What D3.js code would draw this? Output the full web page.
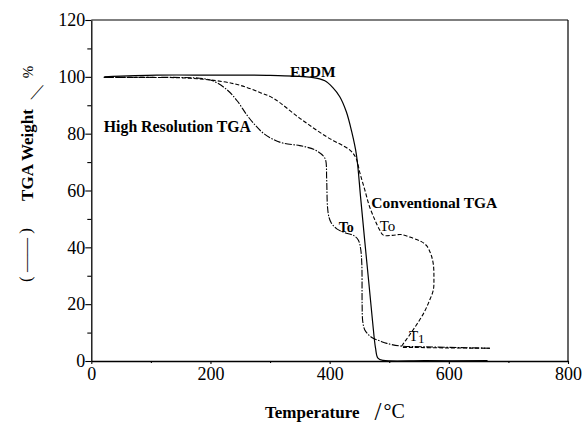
<!DOCTYPE html>
<html>
<head>
<meta charset="utf-8">
<script src="https://cdn.jsdelivr.net/npm/d3@7"></script>
<style>
  html, body { margin: 0; padding: 0; background: #fff; }
  svg { display: block; }
  text { font-family: "Liberation Serif", "Times New Roman", serif; fill: #000; }
</style>
</head>
<body>
<svg id="chart" width="582" height="425"></svg>
<script>
// ---------------- data ----------------
const xMajorTicks = [0, 200, 400, 600, 800];
const xMinorTicks = [100, 300, 500, 700];
const yMajorTicks = [0, 20, 40, 60, 80, 100, 120];
const yMinorTicks = [10, 30, 50, 70, 90, 110];

// EPDM (solid)
const epdmT = [22, 110, 200, 300, 370, 392, 405, 417, 428, 437, 445, 452, 459, 466, 472, 477, 481, 490, 560, 665];
const epdmW = [100, 100.6, 100.6, 100.5, 99.8, 98.6, 96.3, 93, 87.7, 80.7, 72.5, 57.5, 42, 27, 14, 4.5, 1, 0.2, 0.1, 0.1];

// High Resolution TGA (dash-dot)
const hiResT = [21, 100, 182, 205, 228, 245, 261, 275, 289, 305, 323, 350, 375, 390, 393.5, 395, 396.5, 399, 403, 412, 425, 440, 448, 452, 454, 454.5, 455.5, 459, 465, 473, 485, 496, 518, 560, 620, 669];
const hiResW = [99.8, 99.8, 99.5, 98.5, 95.4, 91.5, 86.6, 83, 80.1, 78, 76.6, 75.8, 74.3, 72, 70.5, 64, 54, 50.5, 48.5, 46.5, 45.2, 44.2, 42.6, 39.5, 34, 20, 14, 10.9, 9.3, 8, 7, 6.2, 5.3, 5, 4.7, 4.5];

// Conventional TGA (dashed)
const convT = [21, 100, 166, 221, 250, 283, 306, 350, 395, 434, 444, 451, 459, 467, 476, 484, 490, 505, 520, 540, 554, 563, 570, 574, 575, 574, 567, 557, 545, 533, 524, 521, 540, 600, 669];
const convW = [99.8, 99.8, 99.5, 98.3, 97, 94.5, 92.4, 85.4, 78.9, 74.2, 71.5, 66, 60.2, 54.3, 49.6, 46.1, 44.3, 44.2, 44.5, 43.2, 42, 40.5, 37.5, 34, 29, 25, 21, 16.5, 12.5, 8.8, 6.2, 5, 4.8, 4.6, 4.5];

const curveLabels = [
  { text: "EPDM", t: 335, w: 100.6, dx: -1, dy: 1.5, weight: "bold", size: 15.5 },
  { text: "High Resolution TGA", t: 21, w: 80, dx: 0, dy: -2, weight: "bold", size: 15.8 },
  { text: "Conventional TGA", t: 470, w: 54.3, dx: 0, dy: 1, weight: "bold", size: 15.5 },
  { text: "To", t: 412, w: 46.7, dx: 2, dy: 4, weight: "bold", size: 14 },
  { text: "To", t: 484, w: 46.1, dx: 0, dy: 1, weight: "normal", size: 15 },
  { text: "T1", t: 523, w: 6.8, dx: 6, dy: -1, weight: "normal", size: 15 }
];

// ---------------- layout ----------------
const svg = d3.select("#chart");
const mLeft = 91.3, mRight = 568, mTop = 20, mBottom = 361;

const x = d3.scaleLinear().domain([0, 800]).range([mLeft, mRight]);
const y = d3.scaleLinear().domain([0, 120]).range([mBottom, mTop]);

// frame (top, right)
svg.append("line").attr("x1", mLeft).attr("x2", mRight).attr("y1", mTop).attr("y2", mTop)
  .attr("stroke", "#000").attr("stroke-width", 1.2);
svg.append("line").attr("x1", mRight).attr("x2", mRight).attr("y1", mTop).attr("y2", mBottom)
  .attr("stroke", "#000").attr("stroke-width", 1.2);

// axes
const gx = svg.append("g").attr("transform", `translate(0,${mBottom})`)
  .call(d3.axisBottom(x).tickValues(xMajorTicks).tickSize(3).tickPadding(3).tickSizeOuter(0));
const gxm = svg.append("g").attr("transform", `translate(0,${mBottom})`)
  .call(d3.axisBottom(x).tickValues(xMinorTicks).tickSize(2).tickFormat(""));
gxm.select(".domain").remove();

const gy = svg.append("g").attr("transform", `translate(${mLeft},0)`)
  .call(d3.axisLeft(y).tickValues(yMajorTicks).tickSize(6).tickPadding(0).tickSizeOuter(0));
const gym = svg.append("g").attr("transform", `translate(${mLeft},0)`)
  .call(d3.axisLeft(y).tickValues(yMinorTicks).tickSize(4).tickFormat(""));
gym.select(".domain").remove();

svg.selectAll(".domain").attr("stroke", "#000").attr("stroke-width", 1.3);
svg.selectAll(".tick line").attr("stroke", "#000").attr("stroke-width", 1.1);
svg.selectAll(".tick text")
  .style("font-family", '"Liberation Serif", "Times New Roman", serif')
  .style("font-size", "18px").attr("fill", "#000");

// curves
const line = d3.line().x(d => x(d[0])).y(d => y(d[1])).curve(d3.curveCatmullRom.alpha(0.5));
const zip = (a, b) => a.map((v, i) => [v, b[i]]);

svg.append("path").datum(zip(convT, convW)).attr("d", line)
  .attr("fill", "none").attr("stroke", "#000").attr("stroke-width", 1.1)
  .attr("stroke-dasharray", "4,2");
svg.append("path").datum(zip(hiResT, hiResW)).attr("d", line)
  .attr("fill", "none").attr("stroke", "#000").attr("stroke-width", 1.1)
  .attr("stroke-dasharray", "7,1.5,1.5,1.5");
svg.append("path").datum(zip(epdmT, epdmW)).attr("d", line)
  .attr("fill", "none").attr("stroke", "#000").attr("stroke-width", 1.2);

// curve labels
curveLabels.forEach(l => {
  const t = svg.append("text")
    .attr("x", x(l.t) + l.dx).attr("y", y(l.w) + l.dy)
    .attr("font-weight", l.weight).attr("font-size", l.size);
  if (l.text === "T1") {
    t.append("tspan").text("T");
    t.append("tspan").attr("font-size", 13).attr("dy", 2).text("1");
  } else {
    t.text(l.text);
  }
});

// x axis title
const xt = svg.append("text").attr("y", 418).attr("x", 265);
xt.append("tspan").attr("font-weight", "bold").attr("font-size", 17).text("Temperature");
xt.append("tspan").attr("font-size", 25).attr("dx", 15).attr("dy", 2).text("/");
xt.append("tspan").attr("font-size", 20).attr("dx", 2).attr("dy", -2).text("°C");

// y axis title
svg.append("text").attr("transform", "translate(31,255) rotate(-90)")
  .attr("text-anchor", "middle").attr("font-size", 17).text("( —— )");
svg.append("text").attr("transform", "translate(33,155) rotate(-90)")
  .attr("text-anchor", "middle").attr("font-weight", "bold").attr("font-size", 17).text("TGA Weight");
svg.append("text").attr("transform", "translate(33.5,99) skewX(-28)")
  .attr("text-anchor", "middle").attr("font-size", 21).text("/");
svg.append("text").attr("transform", "translate(33,72) rotate(-90)")
  .attr("text-anchor", "middle").attr("font-size", 15).text("%");
</script>
</body>
</html>
